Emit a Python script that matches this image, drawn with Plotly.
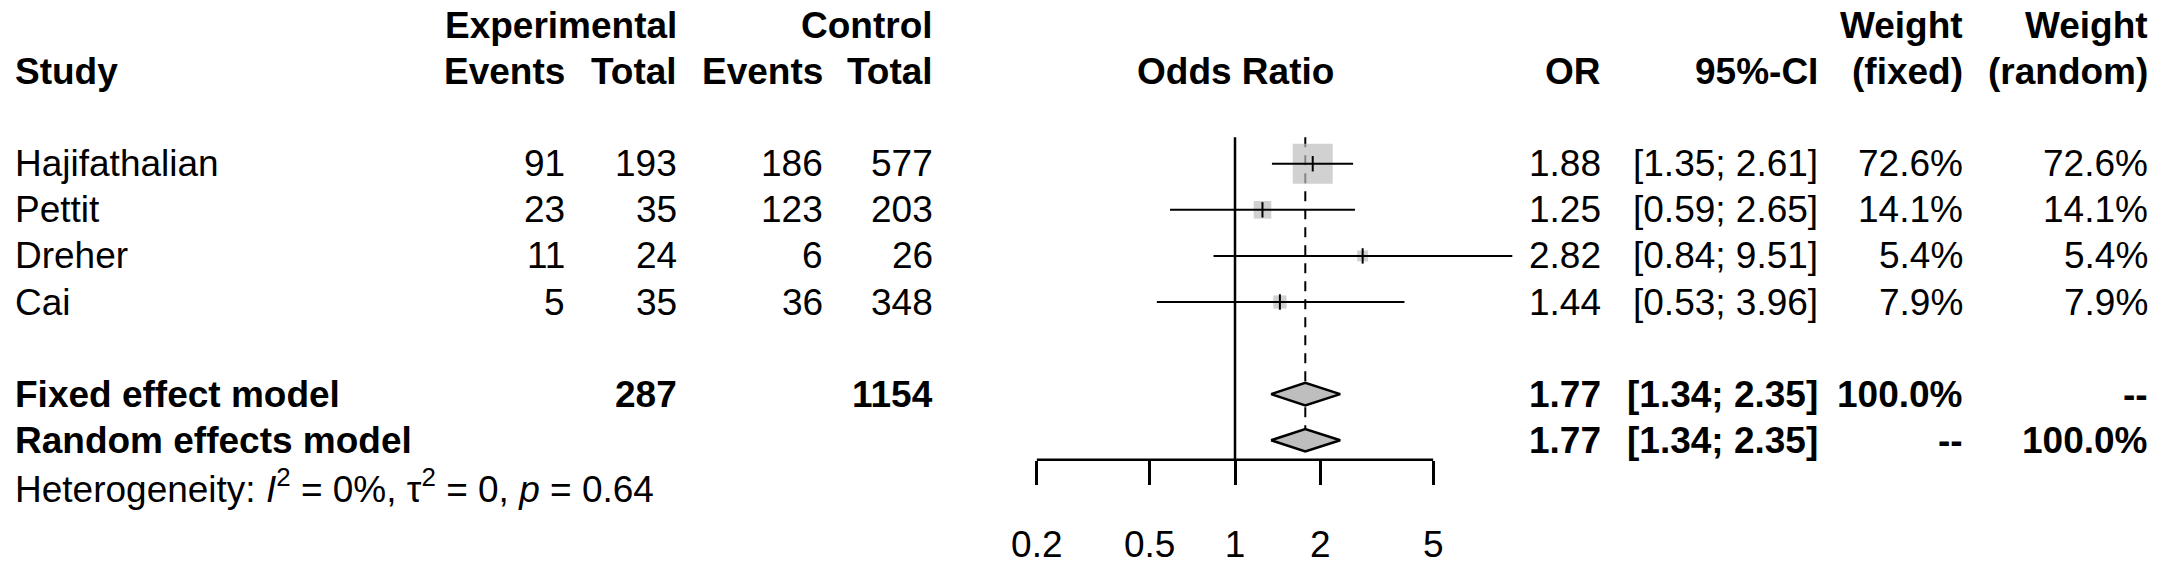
import plotly.graph_objects as go
import numpy as np

# study level data
studies = ["Hajifathalian", "Pettit", "Dreher", "Cai"]
exp_events = [91, 23, 11, 5]
exp_total = [193, 35, 24, 35]
ctrl_events = [186, 123, 6, 36]
ctrl_total = [577, 203, 26, 348]
odds_ratio = [1.88, 1.25, 2.82, 1.44]
ci_low = [1.35, 0.59, 0.84, 0.53]
ci_high = [2.61, 2.65, 9.51, 3.96]
weight_fixed = [72.6, 14.1, 5.4, 7.9]
weight_random = [72.6, 14.1, 5.4, 7.9]

# pooled estimates
pooled_models = ["Fixed effect model", "Random effects model"]
pooled_or = [1.77, 1.77]
pooled_low = [1.34, 1.34]
pooled_high = [2.35, 2.35]
pooled_wfixed = ["100.0%", "--"]
pooled_wrandom = ["--", "100.0%"]
exp_sum = 287
ctrl_sum = 1154

tick_vals = [0.2, 0.5, 1, 2, 5]
tick_text = ["0.2", "0.5", "1", "2", "5"]

W, H = 2165, 565
FONT = "Liberation Sans, Arial, sans-serif"
FS = 37
GREY = "#bebebe"

# row layout (pixels): row r is centred at 26 + 47*r
ROW0, ROWH = 26, 47
study_rows = [3, 4, 5, 6]
pooled_rows = [8, 9]
het_row = 10
axis_px = 469
axis_row = (axis_px - ROW0) / ROWH
top_row = (140 - ROW0) / ROWH

# columns (pixel x of right edge unless noted)
COL_STUDY = 13
COL_EE, COL_ET, COL_CE, COL_CT = 567, 679, 825, 935
COL_OR, COL_CI, COL_WF, COL_WR = 1603, 1820, 1965, 2150
X_ONE, PX_DEC = 1235, 283.5  # pixel of OR=1 and pixels per decade

fig = go.Figure()

# reference lines (no effect, pooled estimate)
fig.add_trace(go.Scatter(x=[1, 1], y=[top_row, axis_row], mode="lines",
                         line=dict(color="black", width=2.5), hoverinfo="skip"))
fig.add_trace(go.Scatter(x=[pooled_or[0], pooled_or[0]], y=[top_row, pooled_rows[1]], mode="lines",
                         line=dict(color="black", width=2, dash="10px,8px"), hoverinfo="skip"))

# bottom axis line between first and last tick
fig.add_trace(go.Scatter(x=[tick_vals[0], tick_vals[-1]], y=[axis_row, axis_row], mode="lines",
                         line=dict(color="black", width=2.5), hoverinfo="skip"))

# weighted squares
fig.add_trace(go.Scatter(x=odds_ratio, y=study_rows, mode="markers",
                         marker=dict(symbol="square", color=GREY,
                                     size=[4.69 * np.sqrt(w) for w in weight_fixed],
                                     line=dict(width=0)),
                         hoverinfo="skip"))

# confidence intervals
ci_x, ci_y = [], []
for lo, hi, r in zip(ci_low, ci_high, study_rows):
    ci_x += [lo, hi, None]
    ci_y += [r, r, None]
fig.add_trace(go.Scatter(x=ci_x, y=ci_y, mode="lines",
                         line=dict(color="black", width=2), hoverinfo="skip"))

# point estimate tick
fig.add_trace(go.Scatter(x=odds_ratio, y=study_rows, mode="markers",
                         marker=dict(symbol="line-ns", size=11,
                                     line=dict(color="black", width=2)),
                         hoverinfo="skip"))

# diamonds for pooled estimates
for est, lo, hi, r in zip(pooled_or, pooled_low, pooled_high, pooled_rows):
    h = 0.245
    fig.add_trace(go.Scatter(x=[lo, est, hi, est, lo], y=[r, r - h, r, r + h, r],
                             mode="lines", fill="toself", fillcolor=GREY,
                             line=dict(color="black", width=2.5), hoverinfo="skip"))

annotations = []


def add_text(txt, px, row, anchor="right", bold=False):
    if bold:
        txt = "<b>" + txt + "</b>"
    annotations.append(dict(text=txt, x=px / W, xref="paper", y=row, yref="y",
                            xanchor=anchor, yanchor="middle", showarrow=False,
                            font=dict(family=FONT, size=FS, color="black")))


# header
add_text("Experimental", COL_ET, 0, bold=True)
add_text("Control", COL_CT, 0, bold=True)
add_text("Weight", COL_WF, 0, bold=True)
add_text("Weight", COL_WR, 0, bold=True)
add_text("Study", COL_STUDY, 1, anchor="left", bold=True)
add_text("Events", COL_EE, 1, bold=True)
add_text("Total", COL_ET, 1, bold=True)
add_text("Events", COL_CE, 1, bold=True)
add_text("Total", COL_CT, 1, bold=True)
add_text("Odds Ratio", X_ONE, 1, anchor="center", bold=True)
add_text("OR", COL_OR, 1, bold=True)
add_text("95%-CI", COL_CI, 1, bold=True)
add_text("(fixed)", COL_WF, 1, bold=True)
add_text("(random)", COL_WR, 1, bold=True)

# study rows
for i, r in enumerate(study_rows):
    add_text(studies[i], COL_STUDY, r, anchor="left")
    add_text(str(exp_events[i]), COL_EE, r)
    add_text(str(exp_total[i]), COL_ET, r)
    add_text(str(ctrl_events[i]), COL_CE, r)
    add_text(str(ctrl_total[i]), COL_CT, r)
    add_text(f"{odds_ratio[i]:.2f}", COL_OR, r)
    add_text(f"[{ci_low[i]:.2f}; {ci_high[i]:.2f}]", COL_CI, r)
    add_text(f"{weight_fixed[i]:.1f}%", COL_WF, r)
    add_text(f"{weight_random[i]:.1f}%", COL_WR, r)

# pooled rows
for i, r in enumerate(pooled_rows):
    add_text(pooled_models[i], COL_STUDY, r, anchor="left", bold=True)
    add_text(f"{pooled_or[i]:.2f}", COL_OR, r, bold=True)
    add_text(f"[{pooled_low[i]:.2f}; {pooled_high[i]:.2f}]", COL_CI, r, bold=True)
    add_text(pooled_wfixed[i], COL_WF, r, bold=True)
    add_text(pooled_wrandom[i], COL_WR, r, bold=True)
add_text(str(exp_sum), COL_ET, pooled_rows[0], bold=True)
add_text(str(ctrl_sum), COL_CT, pooled_rows[0], bold=True)

add_text("Heterogeneity: <i>I</i><sup>2</sup> = 0%, \u03c4<sup>2</sup> = 0, <i>p</i> = 0.64",
         COL_STUDY, het_row, anchor="left")

x_lo = -X_ONE / PX_DEC
x_hi = (W - X_ONE) / PX_DEC

fig.update_layout(
    width=W, height=H,
    margin=dict(l=0, r=0, t=0, b=0),
    paper_bgcolor="white", plot_bgcolor="white",
    showlegend=False,
    annotations=annotations,
    font=dict(family=FONT, size=FS, color="black"),
    xaxis=dict(type="log", range=[x_lo, x_hi], domain=[0, 1],
               anchor="free", position=1 - axis_px / H,
               showgrid=False, zeroline=False, showline=False,
               ticks="outside", ticklen=24, tickwidth=2.5, tickcolor="black",
               tickvals=tick_vals, ticktext=tick_text, ticklabelstandoff=28,
               tickfont=dict(family=FONT, size=FS, color="black"), fixedrange=True),
    yaxis=dict(range=[(H - ROW0) / ROWH, -ROW0 / ROWH], domain=[0, 1],
               showgrid=False, zeroline=False, showline=False, showticklabels=False,
               fixedrange=True),
)

fig.write_html("out.html", config={"displayModeBar": False},
               post_script="document.body.style.margin = '0';")
